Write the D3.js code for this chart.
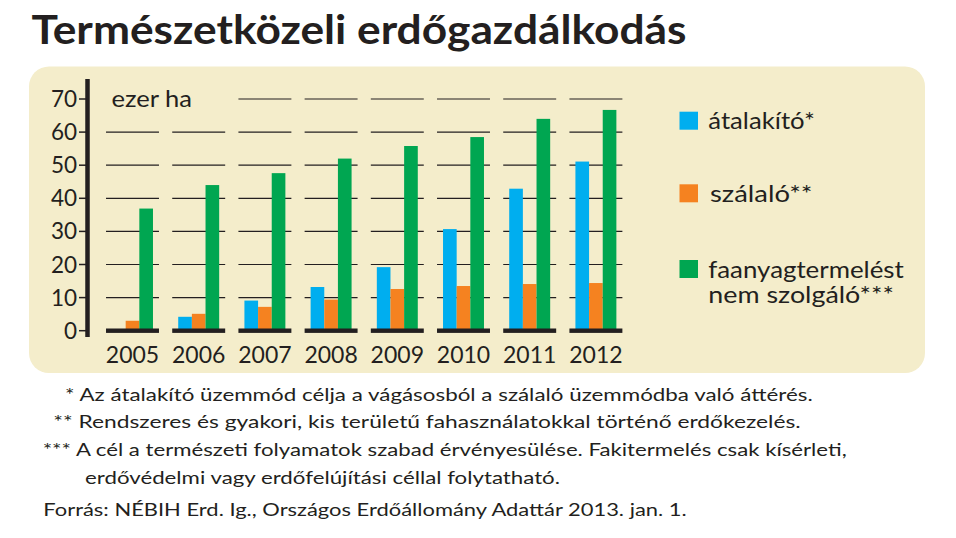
<!DOCTYPE html>
<html>
<head>
<meta charset="utf-8">
<script src="https://cdn.jsdelivr.net/npm/d3@7"></script>
<style>
  html, body { margin: 0; padding: 0; background: #ffffff; }
  svg { display: block; }
  text { font-family: Lato, "Noto Sans", sans-serif; fill: #231f20; }
</style>
</head>
<body>
<svg id="chart" width="956" height="538"></svg>
<script>
// ---- data ----
const years = ["2005", "2006", "2007", "2008", "2009", "2010", "2011", "2012"];
const seriesNames = ["átalakító*", "szálaló**", "faanyagtermelést nem szolgáló***"];
const atalakito = [0.3, 4.2, 9.1, 13.2, 19.2, 30.7, 42.9, 51.1];
const szalalo   = [3.0, 5.1, 7.2, 9.4, 12.6, 13.5, 14.1, 14.4];
const faanyag   = [36.9, 44.0, 47.6, 52.0, 55.8, 58.5, 64.0, 66.7];
const yTicks = [0, 10, 20, 30, 40, 50, 60, 70];
const colors = ["#00aeef", "#f58220", "#00a651"];
const title = "Természetközeli erdőgazdálkodás";
const unitLabel = "ezer ha";
const footnotes = [
  "* Az átalakító üzemmód célja a vágásosból a szálaló üzemmódba való áttérés.",
  "** Rendszeres és gyakori, kis területű fahasználatokkal történő erdőkezelés.",
  "*** A cél a természeti folyamatok szabad érvényesülése. Fakitermelés csak kísérleti,",
  "erdővédelmi vagy erdőfelújítási céllal folytatható.",
  "Forrás: NÉBIH Erd. Ig., Országos Erdőállomány Adattár 2013. jan. 1."
];

const values = [atalakito, szalalo, faanyag];
const svg = d3.select("#chart");
const ink = "#231f20";

// title
svg.append("text")
  .attr("x", 31.5).attr("y", 43.5)
  .attr("font-size", 39.5).attr("font-weight", 700)
  .attr("textLength", 655).attr("lengthAdjust", "spacingAndGlyphs")
  .text(title);

// panel
svg.append("rect")
  .attr("x", 29).attr("y", 66.5).attr("width", 896).attr("height", 306.5)
  .attr("rx", 20).attr("ry", 20)
  .attr("fill", "#f4edcb");

// scales
const x = d3.scaleBand().domain(years).range([99.4, 629]).paddingInner(0.2).paddingOuter(0.1);
const x1 = d3.scaleBand().domain(d3.range(3)).range([6, x.bandwidth() - 6]);
const y = d3.scaleLinear().domain([0, 70]).range([330.7, 99]);

// gridlines (segments per group)
const gridG = svg.append("g");
years.forEach((yr, i) => {
  yTicks.filter(t => t > 0).forEach(t => {
    if (t === 70 && i < 2) return; // unit label space
    gridG.append("line")
      .attr("x1", x(yr)).attr("x2", x(yr) + x.bandwidth())
      .attr("y1", y(t)).attr("y2", y(t))
      .attr("stroke", ink).attr("stroke-width", 1.2);
  });
});

// bars
const barG = svg.append("g");
years.forEach((yr, i) => {
  values.forEach((arr, s) => {
    barG.append("rect")
      .attr("x", x(yr) + x1(s))
      .attr("width", x1.bandwidth())
      .attr("y", y(arr[i]))
      .attr("height", y(0) - y(arr[i]))
      .attr("fill", colors[s]);
  });
  // thick baseline segment
  barG.append("rect")
    .attr("x", x(yr)).attr("width", x.bandwidth())
    .attr("y", y(0) - 2.2).attr("height", 4.4)
    .attr("fill", ink);
});

// y axis
const axisX = 87.5;
svg.append("line")
  .attr("x1", axisX).attr("x2", axisX)
  .attr("y1", 79).attr("y2", 337)
  .attr("stroke", ink).attr("stroke-width", 4.5);
const yAx = svg.append("g");
yTicks.forEach(t => {
  yAx.append("line")
    .attr("x1", 79).attr("x2", axisX)
    .attr("y1", y(t)).attr("y2", y(t))
    .attr("stroke", ink).attr("stroke-width", 1.5);
  yAx.append("text")
    .attr("x", 77).attr("y", y(t) + 8)
    .attr("text-anchor", "end")
    .attr("font-size", 22.5)
    .text(t);
});

// unit label
svg.append("text")
  .attr("x", 111.5).attr("y", 106.5)
  .attr("font-size", 22.5)
  .attr("textLength", 80.5).attr("lengthAdjust", "spacingAndGlyphs")
  .text(unitLabel);

// x labels
years.forEach(yr => {
  svg.append("text")
    .attr("x", x(yr) + x.bandwidth() / 2).attr("y", 363.3)
    .attr("text-anchor", "middle")
    .attr("font-size", 23)
    .text(yr);
});

// legend
const legendItems = [
  { sq: 111.7, lines: ["átalakító*"], tx: 708.3, ty: [129.3], w: [106.5] },
  { sq: 184.3, lines: ["szálaló**"], tx: 710, ty: [201.7], w: [102.5] },
  { sq: 260, lines: ["faanyagtermelést", "nem szolgáló***"], tx: 708.3, ty: [277.7, 303.3], w: [195.5, 185.5] }
];
legendItems.forEach((it, s) => {
  svg.append("rect")
    .attr("x", 679.5).attr("y", it.sq).attr("width", 18.5).attr("height", 18)
    .attr("fill", colors[s]);
  it.lines.forEach((ln, k) => {
    svg.append("text")
      .attr("x", it.tx).attr("y", it.ty[k])
      .attr("font-size", 23)
      .attr("textLength", it.w[k]).attr("lengthAdjust", "spacingAndGlyphs")
      .text(ln);
  });
});

// footnotes
const fnPos = [
  { x: 65, y: 401, w: 747.7 },
  { x: 53.3, y: 427.5, w: 747.4 },
  { x: 42.7, y: 455.5, w: 804 },
  { x: 85, y: 484, w: 475 },
  { x: 43.3, y: 516, w: 643.4 }
];
footnotes.forEach((f, i) => {
  svg.append("text")
    .attr("x", fnPos[i].x).attr("y", fnPos[i].y)
    .attr("font-size", 18)
    .attr("textLength", fnPos[i].w).attr("lengthAdjust", "spacingAndGlyphs")
    .text(f);
});
</script>
</body>
</html>
